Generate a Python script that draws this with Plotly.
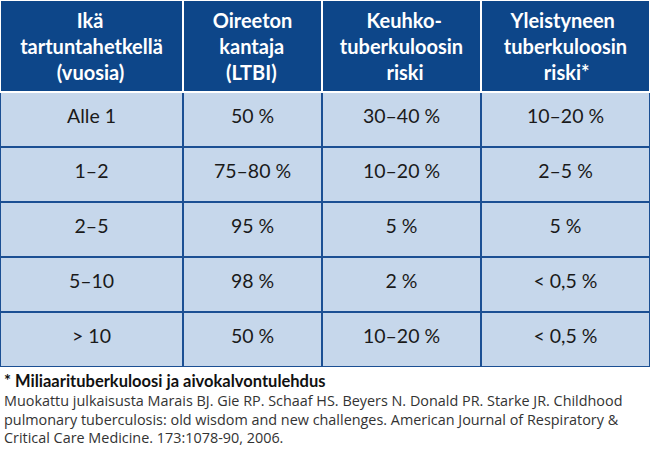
import plotly.graph_objects as go

header_lines = [["Ikä", "tartuntahetkellä", "(vuosia)"],
                ["Oireeton", "kantaja", "(LTBI)"],
                ["Keuhko-", "tuberkuloosin", "riski"],
                ["Yleistyneen", "tuberkuloosin", "riski*"]]
ages = ["Alle 1", "1–2", "2–5", "5–10", "> 10"]
ltbi = ["50 %", "75–80 %", "95 %", "98 %", "50 %"]
pulmonary = ["30–40 %", "10–20 %", "5 %", "2 %", "10–20 %"]
disseminated = ["10–20 %", "2–5 %", "5 %", "< 0,5 %", "< 0,5 %"]
col_widths = [183, 139, 159, 169]

footnote = "* Miliaarituberkuloosi ja aivokalvontulehdus"
source_lines = ["Muokattu julkaisusta Marais BJ. Gie RP. Schaaf HS. Beyers N. Donald PR. Starke JR. Childhood",
                "pulmonary tuberculosis: old wisdom and new challenges. American Journal of Respiratory &",
                "Critical Care Medicine. 173:1078-90, 2006."]

HEAD = "#0d4689"
BODY = "#c6d7eb"
LINE = "#1b4f93"
FONT = "Lato"
HSIZE = 20
BSIZE = 19.5

# left padding (px) so each header line is centred (plotly centres multi-line blocks only)
header_pad = [[57, 0, 35], [0, 6, 12], [26, 0, 45], [8, 0, 40]]


def pad(px):
    en = int(px // (HSIZE / 2))
    rest = px - en * HSIZE / 2
    six = int(round(rest / (HSIZE / 6)))
    return "\u2002" * en + "\u2006" * six


headers = ["<b>" + "<br>".join(pad(p) + t for t, p in zip(lines, pads)) + "</b>"
           for lines, pads in zip(header_lines, header_pad)]


def cell(t):
    # blank spacer line pushes the value down towards the middle of the row
    return "\u00a0<br><span style='font-size:%spx'>%s</span>" % (BSIZE, t)


columns = [[cell(t) for t in col] for col in (ages, ltbi, pulmonary, disseminated)]

fig = go.Figure(go.Table(
    domain=dict(x=[0, 1], y=[1 - 367 / 450, 1]),
    columnwidth=col_widths,
    header=dict(values=headers, fill_color=HEAD, align="center",
                font=dict(family=FONT, size=HSIZE, color="white"),
                line=dict(color="white", width=2), height=90),
    cells=dict(values=columns, fill_color=BODY, align="center",
               font=dict(family=FONT, size=10, color="#1a1a1a"),
               line=dict(color=LINE, width=2), height=55),
))

fig.add_annotation(x=0.003, y=1 - 381 / 450, xref="paper", yref="paper", text="<b>" + footnote + "</b>",
                   showarrow=False, xanchor="left", yanchor="middle",
                   font=dict(family=FONT, size=16.5, color="#111111"))
fig.add_annotation(x=0.003, y=1 - 419 / 450, xref="paper", yref="paper", text="<br>".join(source_lines),
                   showarrow=False, xanchor="left", yanchor="middle", align="left",
                   font=dict(family="Open Sans", size=14.4, color="#333333"))

fig.update_layout(width=650, height=450, margin=dict(l=0, r=0, t=0, b=0),
                  paper_bgcolor="white", plot_bgcolor="white")
fig.write_html("out.html", config={"displayModeBar": False},
               post_script="document.body.style.margin='0px';")
